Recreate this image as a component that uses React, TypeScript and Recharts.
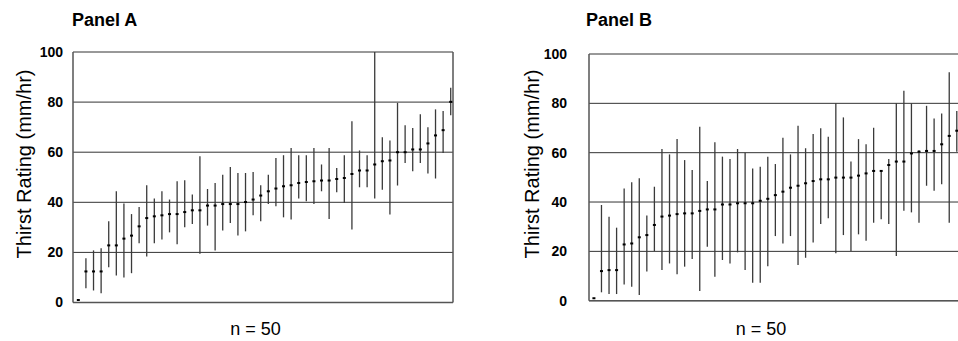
import { ComposedChart, Scatter, ErrorBar, XAxis, YAxis, CartesianGrid, ReferenceLine } from 'recharts';

// y axis
const yTicks = [0, 20, 40, 60, 80, 100];

// Panel A: per-subject mean thirst rating with its range (sorted by mean)
const meansA = [
  1, 12.4, 12.4, 12.4, 22.8, 22.8, 25.5, 26.7, 30.4, 33.7,
  34.4, 34.8, 35.3, 35.3, 36.1, 36.8, 36.8, 38.7, 38.7, 39.3,
  39.3, 39.3, 40.1, 41.1, 42.7, 44.4, 45.5, 46.4, 46.8, 47.7,
  48.1, 48.4, 48.7, 48.7, 49.3, 49.7, 51.3, 52.7, 52.7, 55.1,
  56.4, 56.7, 60, 60, 61.1, 61.1, 63.5, 66.7, 68.8, 80.1,
];
const highA = [
  1, 17.7, 20.8, 21.7, 32.4, 44.4, 39.5, 35.3, 38.1, 46.8,
  41.5, 44.4, 41.1, 48.4, 48.8, 43.1, 58.4, 45.3, 47.7, 51,
  54.1, 51.7, 51.7, 52.1, 46.8, 51, 57.7, 58.8, 61.7, 58.8,
  58.8, 61.7, 55.1, 61.7, 53.7, 58.8, 72.4, 60.7, 58.8, 100,
  66, 64.7, 79.7, 70.8, 69.7, 75.1, 70, 77.1, 76.4, 85.7,
];
const lowA = [
  1, 5.7, 4.8, 3.7, 14.1, 10.8, 10, 11.7, 23.7, 18.4,
  23.7, 25.1, 28, 23.3, 30, 31.3, 19.5, 30.7, 20.8, 28.7,
  31.7, 26.7, 28.4, 34.8, 32.4, 39.3, 38.4, 34, 33.1, 41.5,
  40.4, 39.3, 44.4, 33.3, 44, 39.7, 29.1, 46, 46, 41.5,
  45, 35.1, 46.7, 55.7, 52.4, 55.7, 51.5, 49.5, 59.7, 74.8,
];

// Panel B
const meansB = [
  1, 12, 12.4, 12.4, 22.8, 23.2, 25.7, 26.6, 30.7, 34.1,
  34.5, 35.1, 35.4, 35.4, 36.4, 37, 37, 39, 39, 39.5,
  39.5, 39.5, 40.5, 41.3, 42.8, 44.2, 45.8, 46.6, 47.6, 48.5,
  49.2, 49.2, 49.9, 49.9, 49.9, 50.7, 51.6, 52.6, 52.6, 55,
  56.4, 56.4, 59.7, 60.4, 60.7, 60.7, 63.4, 66.8, 68.9, 72,
];
const highB = [
  1, 38.8, 34, 29.6, 45.5, 48, 49.6, 34.5, 46.2, 61.5,
  59.3, 65.5, 57, 53, 70.5, 48.5, 64.2, 58.4, 57.4, 61.5,
  60, 53.6, 54.3, 58.4, 55.4, 66.1, 59.3, 70.9, 61.8, 67.6,
  69.9, 66.5, 80, 74.3, 56.4, 65.5, 63.4, 70.1, 53, 57.4,
  80, 85.1, 80, 61, 79, 73.9, 75.9, 92.6, 76.9, 84,
];
const lowB = [
  1, 3.4, 2.7, 2.7, 6.6, 5.7, 2.3, 11.8, 20.1, 12.4,
  15.1, 10.7, 13.8, 16.9, 3.9, 21.9, 9.7, 16.5, 15.1, 19.6,
  12.4, 7.3, 7.3, 14, 26.2, 23.2, 26.2, 14.5, 17.4, 23.6,
  31.1, 33.4, 19.2, 26.6, 20.1, 26.9, 24.3, 31.6, 33, 31.1,
  18.1, 36.5, 35.8, 31.6, 46.6, 44.6, 47.2, 31.6, 60.4, 58,
];

const buildRows = (means: number[], low: number[], high: number[]) =>
  means.map((m, i) => ({ x: i + 1, mean: m, err: [m - low[i], high[i] - m] }));

const rowsA = buildRows(meansA, lowA, highA);
const rowsB = buildRows(meansB, lowB, highB);

const FONT = '"Liberation Sans", Arial, sans-serif';
const frame = { stroke: '#555', strokeWidth: 1.5 };

const MeanMark = (p: any) => (
  <rect x={p.cx - 1.5} y={p.cy - 1} width={3} height={2} fill="#000" />
);

type PanelProps = {
  rows: { x: number; mean: number; err: number[] }[];
  left: number;
  width: number;
  top: number;
  right: number;
  axisWidth: number;
  axisHeight: number;
  tickGap: number;
  xDomain: [number, number];
};

function Panel({ rows, left, width, top, right, axisWidth, axisHeight, tickGap, xDomain }: PanelProps) {
  return (
    <div style={{ position: 'absolute', left, top: 0 }}>
      <ComposedChart width={width} height={341} data={rows} margin={{ top, right, bottom: 0, left: 0 }}>
        <CartesianGrid vertical={false} stroke="#333" strokeWidth={1} />
        <XAxis
          type="number"
          dataKey="x"
          domain={xDomain}
          allowDataOverflow
          tick={false}
          tickLine={false}
          axisLine={frame}
          height={axisHeight}
        />
        <YAxis
          type="number"
          domain={[0, 100]}
          ticks={yTicks}
          allowDataOverflow
          width={axisWidth}
          tickLine={false}
          tickSize={0}
          tickMargin={tickGap}
          axisLine={frame}
          tick={{ fontSize: 14, fontWeight: 'bold', fill: '#000' }}
        />
        <ReferenceLine x={xDomain[1]} stroke="#555" strokeWidth={1.5} />
        <Scatter dataKey="mean" shape={MeanMark} isAnimationActive={false}>
          <ErrorBar dataKey="err" direction="y" width={0} stroke="#3a3a3a" strokeWidth={1.3} isAnimationActive={false} />
        </Scatter>
      </ComposedChart>
    </div>
  );
}

const textBase = { position: 'absolute' as const, fontFamily: FONT, color: '#000', whiteSpace: 'nowrap' as const };

export default function App() {
  return (
    <div
      style={{
        position: 'absolute',
        left: 0,
        top: 0,
        width: 958,
        height: 341,
        overflow: 'hidden',
        background: '#fff',
        fontFamily: FONT,
      }}
    >
      <Panel rows={rowsA} left={0} width={470} top={52} right={17} axisWidth={73} axisHeight={38.5} tickGap={10} xDomain={[0.3, 50.3]} />
      <Panel rows={rowsB} left={520} width={460} top={54} right={13} axisWidth={69} axisHeight={40.3} tickGap={22} xDomain={[0.35, 50.35]} />

      <div style={{ ...textBase, left: 72, top: 10.7, fontSize: 18, lineHeight: '18px', fontWeight: 'bold' }}>Panel A</div>
      <div style={{ ...textBase, left: 586, top: 10.7, fontSize: 18, lineHeight: '18px', fontWeight: 'bold' }}>Panel B</div>

      <div style={{ ...textBase, left: 24 - 110, top: 164 - 12, width: 220, height: 24, lineHeight: '24px', fontSize: 20, textAlign: 'center', transform: 'rotate(-90deg)' }}>
        Thirst Rating (mm/hr)
      </div>
      <div style={{ ...textBase, left: 532 - 110, top: 164 - 12, width: 220, height: 24, lineHeight: '24px', fontSize: 20, textAlign: 'center', transform: 'rotate(-90deg)' }}>
        Thirst Rating (mm/hr)
      </div>

      <div style={{ ...textBase, left: 255.5 - 50, top: 319.7, width: 100, fontSize: 18, lineHeight: '18px', textAlign: 'center' }}>n = 50</div>
      <div style={{ ...textBase, left: 761 - 50, top: 319.7, width: 100, fontSize: 18, lineHeight: '18px', textAlign: 'center' }}>n = 50</div>
    </div>
  );
}
